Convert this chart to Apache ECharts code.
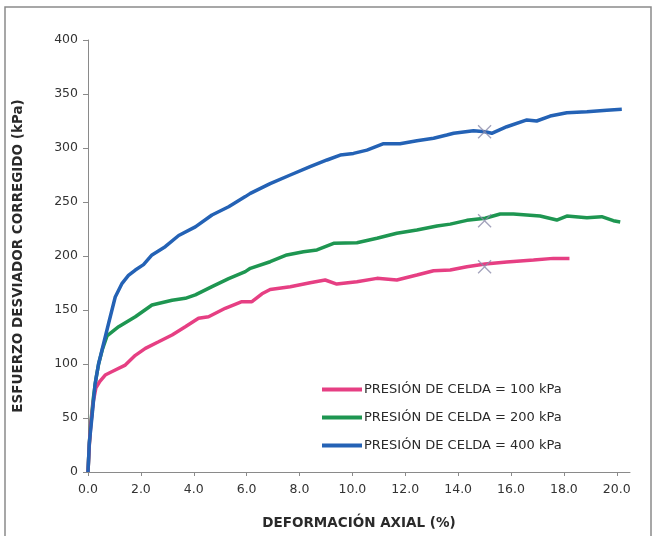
<!DOCTYPE html>
<html>
<head>
<meta charset="utf-8">
<script src="https://cdn.jsdelivr.net/npm/echarts@6/dist/echarts.min.js"></script>
<style>html,body{margin:0;padding:0;background:#fff}#c{width:653px;height:536px}</style>
</head>
<body>
<div id="c"></div>
<script>
var xTicks = [0, 2, 4, 6, 8, 10, 12, 14, 16, 18, 20];
var yTicks = [0, 50, 100, 150, 200, 250, 300, 350, 400];
var seriesNames = ['PRESIÓN DE CELDA = 100 kPa', 'PRESIÓN DE CELDA = 200 kPa', 'PRESIÓN DE CELDA = 400 kPa'];

var x100 = [0, 0.05, 0.1, 0.2, 0.3, 0.45, 0.65, 1.03, 1.41, 1.79, 2.17, 2.67, 3.18, 3.68, 4.18, 4.56, 5.19, 5.82, 6.2, 6.58, 6.89, 7.65, 8.4, 8.97, 9.41, 10.17, 10.93, 11.68, 12.44, 13.07, 13.7, 14.33, 15.02, 15.84, 16.85, 17.6, 18.21];
var y100 = [0, 25, 42, 65, 78, 84, 89.8, 94.4, 99, 108, 114.5, 120.6, 126.9, 134.5, 142.3, 143.8, 151.6, 157.7, 157.7, 165, 169, 171.6, 175.3, 177.8, 174, 176.2, 179.3, 177.8, 182.4, 186.4, 187, 190, 192.6, 194.4, 196.3, 197.8, 197.8];

var x200 = [0, 0.05, 0.1, 0.2, 0.3, 0.4, 0.55, 0.72, 1.16, 1.79, 2.42, 3.18, 3.68, 4.06, 4.69, 5.32, 5.95, 6.14, 6.89, 7.52, 8.15, 8.66, 9.29, 10.17, 10.93, 11.68, 12.44, 13.2, 13.7, 14.33, 15.02, 15.59, 16.09, 17.1, 17.73, 18.11, 18.87, 19.43, 19.87, 20.13];
var y200 = [0, 26, 44, 68, 86, 100, 114, 126, 134.5, 143.8, 154.6, 159, 160.8, 164, 171.6, 179, 185.5, 188.6, 194.7, 201, 204, 205.6, 211.8, 212.3, 216.4, 221, 224, 227.8, 229.5, 233, 235, 238.9, 238.9, 237, 233.3, 237, 235.5, 236.4, 232.7, 231.5];

var x400 = [0, 0.05, 0.15, 0.27, 0.4, 0.53, 0.78, 1.03, 1.29, 1.53, 1.79, 2.1, 2.42, 2.92, 3.43, 4.06, 4.69, 5.32, 5.95, 6.14, 6.89, 7.65, 8.4, 9.04, 9.54, 10.04, 10.55, 11.18, 11.8, 12.44, 13.07, 13.57, 13.83, 14.58, 15.02, 15.27, 15.84, 16.6, 16.97, 17.48, 18.11, 18.87, 19.62, 20.19];
var y400 = [0, 27, 51, 82, 100, 113, 137.7, 162, 174.7, 182, 187, 192, 201, 208.6, 219, 227, 238, 245.6, 255, 258, 267, 275, 282.7, 288.9, 293.5, 295, 298, 304, 304, 306.8, 309, 312, 313.6, 316, 315, 313.6, 319.7, 326, 325, 329.6, 332.7, 333.6, 335, 335.8];

var markerX = [15, 15, 15];
var markerY = [190, 232.7, 315];

function pairs(xs, ys) { return xs.map(function (v, i) { return [v, ys[i]]; }); }

var FONT = 'DejaVu Sans';
var chart = echarts.init(document.getElementById('c'), null, { renderer: 'canvas' });
var colors = ['#e63f83', '#1e9651', '#2462b5'];

chart.setOption({
  animation: false,
  backgroundColor: '#ffffff',
  graphic: [{
    type: 'rect', shape: { x: 5, y: 7, width: 646, height: 540 },
    style: { fill: 'none', stroke: '#8a8a8a', lineWidth: 1.5 }, silent: true
  }],
  grid: { left: 88, right: 23, top: 40, bottom: 64 },
  legend: {
    data: seriesNames,
    orient: 'vertical',
    left: 322, top: 383, padding: 0,
    itemWidth: 40, itemHeight: 4, itemGap: 15,
    icon: 'rect',
    textStyle: { fontFamily: FONT, fontSize: 13, color: '#2a2a2a', padding: [0, 0, 0, -3] }
  },
  xAxis: {
    type: 'value', min: 0, max: 20.5,
    name: 'DEFORMACIÓN AXIAL (%)', nameLocation: 'middle', nameGap: 44,
    nameTextStyle: { fontFamily: FONT, fontWeight: 'bold', fontSize: 13.5, color: '#2a2a2a' },
    axisLine: { lineStyle: { color: '#8a8a8a', width: 1 } },
    axisTick: { show: true, length: 4, inside: false, customValues: xTicks, lineStyle: { color: '#8a8a8a' } },
    axisLabel: { customValues: xTicks, margin: 11, fontFamily: FONT, fontSize: 12.5, color: '#333',
      formatter: function (v) { return v.toFixed(1); } },
    splitLine: { show: false }
  },
  yAxis: {
    type: 'value', min: 0, max: 400, interval: 50,
    name: 'ESFUERZO DESVIADOR CORREGIDO (kPa)', nameLocation: 'middle', nameGap: 63,
    nameTextStyle: { fontFamily: FONT, fontWeight: 'bold', fontSize: 13.5, color: '#2a2a2a' },
    axisLine: { show: true, lineStyle: { color: '#8a8a8a', width: 1 } },
    axisTick: { show: true, length: 5, lineStyle: { color: '#8a8a8a' } },
    axisLabel: { margin: 10, fontFamily: FONT, fontSize: 12.5, color: '#333' },
    splitLine: { show: false }
  },
  series: [
    { name: seriesNames[0], type: 'line', data: pairs(x100, y100), showSymbol: false, symbol: 'none',
      lineStyle: { width: 3.5, color: colors[0] }, itemStyle: { color: colors[0] }, z: 3 },
    { name: seriesNames[1], type: 'line', data: pairs(x200, y200), showSymbol: false, symbol: 'none',
      lineStyle: { width: 3.5, color: colors[1] }, itemStyle: { color: colors[1] }, z: 2 },
    { name: seriesNames[2], type: 'line', data: pairs(x400, y400), showSymbol: false, symbol: 'none',
      lineStyle: { width: 3.5, color: colors[2] }, itemStyle: { color: colors[2] }, z: 4 },
    { name: 'falla', type: 'scatter', data: pairs(markerX, markerY),
      symbol: 'path://M0,0L10,10M10,0L0,10', symbolSize: 13,
      itemStyle: { color: 'none', borderColor: '#8c8cab', borderWidth: 1.3 }, z: 5 }
  ]
});
</script>
</body>
</html>
